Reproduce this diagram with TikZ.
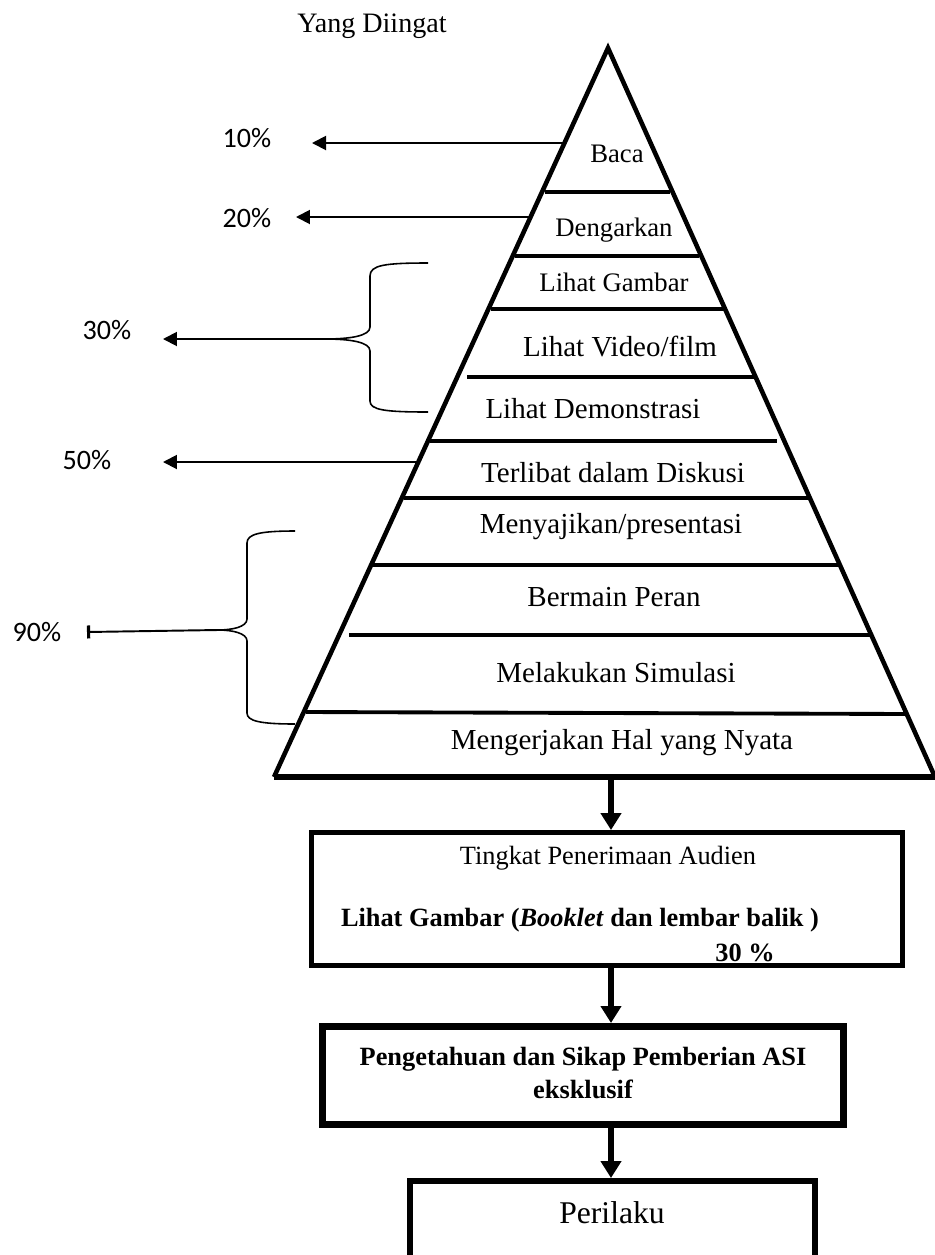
\documentclass[tikz,border=0pt]{standalone}
\usepackage{fontspec}
\setmainfont{Liberation Serif}
\newfontfamily\pctfont{Carlito}
\usepackage{tikz}
\usetikzlibrary{arrows.meta}

\begin{document}
\begin{tikzpicture}[x=0.02cm,y=-0.02cm,
  lvl/.style={font=\fontsize{16.5}{19}\selectfont},
  lvlsmall/.style={font=\fontsize{15.2}{18}\selectfont},
  pct/.style={font=\pctfont\fontsize{16}{19}\selectfont},
  bar/.style={line width=2.2pt},
  brace/.style={line width=0.9pt},
  pctarrow/.style={line width=1.1pt,-{Triangle[length=0.28cm,width=0.28cm]}},
  flow/.style={line width=3.8pt,-{Triangle[length=0.34cm,width=0.4cm]}},
  box/.style={draw,line width=#1,inner sep=0pt}]
  \useasboundingbox (0,0) rectangle (935,1255);

  % pyramid
  \coordinate (apex) at (608,48);
  \coordinate (bl) at (274,777);
  \coordinate (br) at (935,777);
  \draw[line width=2.6pt,line join=miter,miter limit=20] (bl) -- (apex) -- (br);
  \draw[line width=3.6pt] (bl) -- (br);

  \draw[bar] (545,192) -- (670,192);
  \draw[bar] (515,256) -- (699,256);
  \draw[bar] (491,309) -- (724,309);
  \draw[bar] (467,377) -- (754,377);
  \draw[bar] (430,441) -- (777,441);
  \draw[bar] (404,498) -- (808,498);
  \draw[bar] (373,565) -- (839,565);
  \draw[bar] (349,635) -- (871,635);
  \draw[bar] (306,712) -- (908,714);

  \node[font=\fontsize{16}{19}\selectfont] (title) at (372,26) {Yang Diingat};
  \node[lvlsmall] (baca) at (617,154) {Baca};
  \node[lvlsmall] (dengar) at (614,230) {Dengarkan};
  \node[lvlsmall] (gambar) at (614,282) {Lihat Gambar};
  \node[lvl] (video) at (620,347) {Lihat Video/film};
  \node[lvl] (demo) at (593,409) {Lihat Demonstrasi};
  \node[lvl] (diskusi) at (613,473) {Terlibat dalam Diskusi};
  \node[lvl] (saji) at (611,527) {Menyajikan/presentasi};
  \node[lvl] (peran) at (614,597) {Bermain Peran};
  \node[lvl] (simulasi) at (616,673) {Melakukan Simulasi};
  \node[lvl] (nyata) at (622,743) {Mengerjakan Hal yang Nyata};

  % percentages
  \node[pct] (p10) at (247,138) {10\%};
  \node[pct] (p20) at (247,218) {20\%};
  \node[pct] (p30) at (107,330) {30\%};
  \node[pct] (p50) at (87,460) {50\%};
  \node[pct] (p90) at (37,632) {90\%};

  \coordinate (e10) at (564,143);
  \coordinate (t10) at (312,143);
  \coordinate (e20) at (529,217);
  \coordinate (t20) at (296,217);
  \coordinate (b30) at (325,339);
  \coordinate (t30) at (163,339);
  \coordinate (e50) at (417,462);
  \coordinate (t50) at (163,462);
  \coordinate (b90) at (218,630);
  \coordinate (t90) at (87,632);

  \draw[pctarrow] (e10) -- (t10);
  \draw[pctarrow] (e20) -- (t20);
  \draw[pctarrow] (b30) -- (t30);
  \draw[pctarrow] (e50) -- (t50);
  \draw[line width=1.1pt,-{Bar[width=0.26cm,line width=1.8pt]}] (b90) -- (t90);

  % braces
  \draw[brace] (428,263) .. controls (385,263) and (370,265) .. (370,276) -- (370,327)
    .. controls (370,336) and (350,339) .. (b30);
  \draw[brace] (b30) .. controls (350,339) and (370,342) .. (370,351) -- (370,401)
    .. controls (370,410) and (385,412) .. (428,412);
  \draw[brace] (295,531) .. controls (260,531) and (247,534) .. (247,543) -- (247,619)
    .. controls (247,627) and (232,630) .. (b90);
  \draw[brace] (b90) .. controls (232,630) and (247,633) .. (247,641) -- (247,713)
    .. controls (247,721) and (260,724) .. (295,724);

  % boxes below
  \node[box=2.8pt,minimum width=11.82cm,minimum height=2.66cm] (box1) at (607,899) {};
  \node[font=\fontsize{15}{18}\selectfont] (terima) at (608,858) {Tingkat Penerimaan Audien};
  \node[font=\bfseries\fontsize{15}{18}\selectfont] (lihat) at (580,920) {Lihat Gambar (\textit{Booklet} dan lembar balik )};
  \node[font=\bfseries\fontsize{15}{18}\selectfont] (tiga) at (745,953) {30 \%};

  \node[box=4pt,minimum width=10.42cm,minimum height=1.96cm] (box2) at (583,1075.5) {};
  \node[align=center,font=\bfseries\fontsize{15}{18.7}\selectfont] (asi) at (583,1073) {Pengetahuan dan Sikap Pemberian ASI\\eksklusif};

  \node[box=3.4pt,minimum width=8.1cm,minimum height=2.18cm] (box3) at (612.5,1235.5) {};
  \node[font=\fontsize{18}{21}\selectfont] (perilaku) at (612,1213) {Perilaku};

  \coordinate (base) at (611,779);
  \draw[flow] (base) -- (base |- box1.north);
  \draw[flow] (base |- box1.south) -- (base |- box2.north);
  \draw[flow] (base |- box2.south) -- (base |- box3.north);

\end{tikzpicture}
\end{document}
